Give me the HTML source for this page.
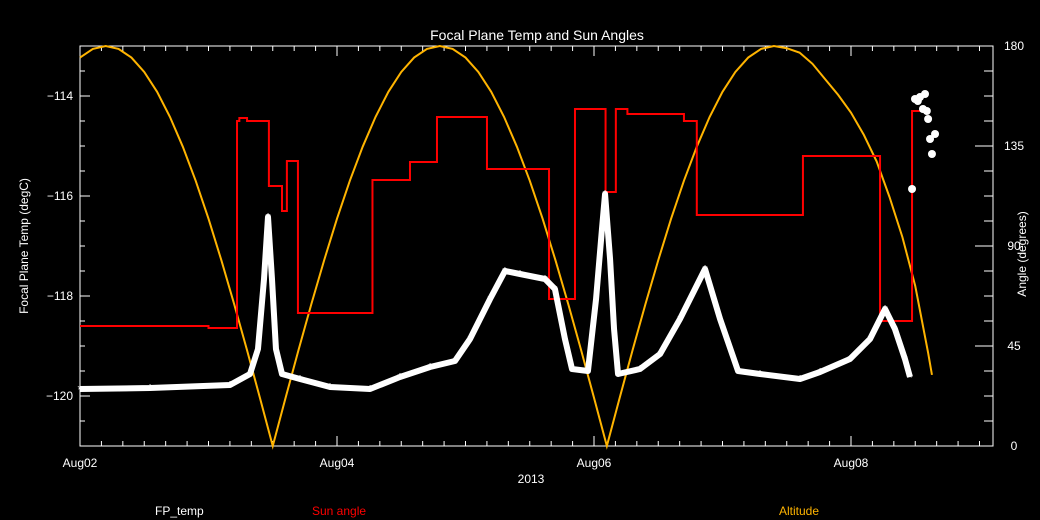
<!DOCTYPE html>
<html><head><meta charset="utf-8"><style>
html,body{margin:0;padding:0;background:#000;}
svg{display:block;font-family:"Liberation Sans","DejaVu Sans",sans-serif;}
</style></head><body>
<svg id="chart" width="1040" height="520" viewBox="0 0 1040 520" xmlns="http://www.w3.org/2000/svg">
<rect x="0" y="0" width="1040" height="520" fill="#000"/>
<text x="537" y="40" fill="#fff" font-size="14" text-anchor="middle">Focal Plane Temp and Sun Angles</text>
<g id="axes"></g>
<g id="alt"></g>
<g id="red"></g>
<g id="fp"></g>
<text x="531" y="483" fill="#fff" font-size="12" text-anchor="middle">2013</text>
<text transform="translate(28,246) rotate(-90)" fill="#fff" font-size="12" text-anchor="middle">Focal Plane Temp (degC)</text>
<text transform="translate(1026,254) rotate(-90)" fill="#fff" font-size="12" text-anchor="middle">Angle (degrees)</text>
<text x="155" y="515" fill="#fff" font-size="12">FP_temp</text>
<text x="312" y="515" fill="#ff0000" font-size="12">Sun angle</text>
<text x="779" y="515" fill="#ffb400" font-size="12">Altitude</text>
</svg>
<script>
var xTickDays = [0, 2, 4, 6];
var xTickLabels = ["Aug02", "Aug04", "Aug06", "Aug08"];
var yTicks = [-114, -116, -118, -120];
var rTicks = [0, 45, 90, 135, 180];
var altT = [0,0.1,0.2,0.3,0.4,0.5,0.6,0.7,0.8,0.9,1.0,1.1,1.2,1.3,1.4,1.5,1.6,1.7,1.8,1.9,2.0,2.1,2.2,2.3,2.4,2.5,2.6,2.7,2.8,2.9,3.0,3.1,3.2,3.3,3.4,3.5,3.6,3.7,3.8,3.9,4.0,4.1,4.2,4.3,4.4,4.5,4.6,4.7,4.8,4.9,5.0,5.1,5.2,5.3,5.4,5.5,5.6,5.7,5.8,5.9,6.0,6.1,6.2,6.3,6.4,6.5,6.6,6.63];
var altV = [174.8,178.7,180,178.7,174.8,168.3,159.4,148.1,134.7,119.4,102.3,83.6,63.8,43.1,21.7,0,21.7,43.1,63.8,83.6,102.3,119.4,134.7,148.1,159.4,168.3,174.8,178.7,180,178.7,174.8,168.3,159.4,148.1,134.7,119.4,102.3,83.6,63.8,43.1,21.7,0,21.7,43.1,63.8,83.6,102.3,119.4,134.7,148.1,159.4,168.3,174.8,178.7,180,179,177,172,165,158,150,140,128,112,94,72,42,32];
var redT = [0,1.0,1.222,1.24,1.30,1.47,1.572,1.61,1.696,2.276,2.568,2.778,3.167,3.65,3.852,4.09,4.17,4.26,4.70,4.80,5.626,6.226,6.475];
var redV = [-118.6,-118.64,-114.5,-114.44,-114.5,-115.8,-116.3,-115.3,-118.34,-115.68,-115.32,-114.42,-115.46,-118.06,-114.26,-115.92,-114.26,-114.36,-114.5,-116.38,-115.2,-118.5,-114.3];
var redEnd = 6.58;
var fpT = [0,0.545,1.167,1.323,1.385,1.432,1.463,1.494,1.525,1.572,1.712,1.946,2.257,2.49,2.724,2.918,3.035,3.191,3.307,3.424,3.619,3.696,3.774,3.829,3.953,4.016,4.062,4.086,4.125,4.156,4.187,4.358,4.514,4.669,4.864,4.981,5.121,5.292,5.603,5.759,5.992,6.148,6.265,6.342,6.42,6.459];
var fpV = [-119.86,-119.84,-119.78,-119.56,-119.06,-117.66,-116.42,-117.66,-119.06,-119.56,-119.66,-119.82,-119.86,-119.62,-119.42,-119.3,-118.86,-118.06,-117.5,-117.56,-117.66,-117.86,-118.86,-119.46,-119.5,-118.06,-116.66,-115.96,-117.26,-118.66,-119.56,-119.46,-119.16,-118.46,-117.46,-118.46,-119.5,-119.56,-119.66,-119.52,-119.26,-118.86,-118.26,-118.66,-119.26,-119.62];
var clT = [6.475,6.498,6.537,6.576,6.56,6.6,6.615,6.63,6.654,6.52,6.59];
var clV = [-115.86,-114.06,-114.02,-113.96,-114.26,-114.46,-114.86,-115.16,-114.76,-114.1,-114.3];

var X0=80,X1=993,Y0=46,Y1=446;
function xs(t){return X0+t*128.5;}
function ys(v){return Y0+(-113-v)*50;}
function ra(a){return Y1-a*(Y1-Y0)/180;}
var NS="http://www.w3.org/2000/svg";
function mk(tag,attrs,parent){var e=document.createElementNS(NS,tag);for(var k in attrs)e.setAttribute(k,attrs[k]);parent.appendChild(e);return e;}
var ax=document.getElementById('axes');
var fr=mk('rect',{x:X0,y:Y0,width:X1-X0,height:Y1-Y0,fill:'none',stroke:'#fff','stroke-width':1},ax);


for(var i=0;i*(1/6)<=(X1-X0)/128.5+0.001;i++){
  var x=xs(i/6); var L=(i%12==0)?10:5;
  var tk=mk('line',{x1:x,x2:x,y1:Y1,y2:Y1-L,stroke:'#fff'},ax);
  
  
  var tk2=mk('line',{x1:x,x2:x,y1:Y0,y2:Y0+L,stroke:'#fff'},ax);
  
  
}
xTickDays.forEach(function(d,i){
  var t=mk('text',{x:xs(d),y:467,fill:'#fff','font-size':12,'text-anchor':'middle'},ax);t.textContent=xTickLabels[i];
  
  
});
for(var v=-113;v>=-121;v-=0.5){
  var y=ys(v); var L=(Math.abs(v%2)==0)?10:5;
  var tk=mk('line',{x1:X0,x2:X0+L,y1:y,y2:y,stroke:'#fff'},ax);
  
  
}
yTicks.forEach(function(v){
  var t=mk('text',{x:73,y:ys(v)+4,fill:'#fff','font-size':12,'text-anchor':'end'},ax);t.textContent=String(v).replace('-','\u2212');
  
  
});
for(var a=0;a<=180;a+=11.25){
  var y=ra(a); var L=(a%45==0)?18:9;
  var tk=mk('line',{x1:X1,x2:X1-L,y1:y,y2:y,stroke:'#fff'},ax);
  
  
}
rTicks.forEach(function(a){
  var t=mk('text',{x:1014,y:ra(a)+4,fill:'#fff','font-size':12,'text-anchor':'middle'},ax);t.textContent=a;
  
  
});
var ap=altT.map(function(t,i){return xs(t)+','+ra(altV[i]);}).join(' ');
var al=mk('polyline',{points:ap,fill:'none',stroke:'#ffb400','stroke-width':2},document.getElementById('alt'));


var rp=[];
redT.forEach(function(t,i){
  var nt=(i<redT.length-1)?redT[i+1]:redEnd;
  rp.push(xs(t)+','+ys(redV[i]));rp.push(xs(nt)+','+ys(redV[i]));
});
var rl=mk('polyline',{points:rp.join(' '),fill:'none',stroke:'#ff0000','stroke-width':2},document.getElementById('red'));


var fg=document.getElementById('fp');
var fpp=fpT.map(function(t,i){return xs(t)+','+ys(fpV[i]);}).join(' ');
var fl=mk('polyline',{points:fpp,fill:'none',stroke:'#fff','stroke-width':6,'stroke-linejoin':'round'},fg);


function star(x,y){
  var s=mk('text',{x:x,y:y+5,fill:'#fff','font-size':13,'text-anchor':'middle'},fg);s.textContent='*';
  
  
}
fpT.forEach(function(t,i){star(xs(t),ys(fpV[i]));});
clT.forEach(function(t,i){
  var c=mk('circle',{cx:xs(t),cy:ys(clV[i]),r:4,fill:'#fff'},fg);
  
  
});
</script>
</body></html>
